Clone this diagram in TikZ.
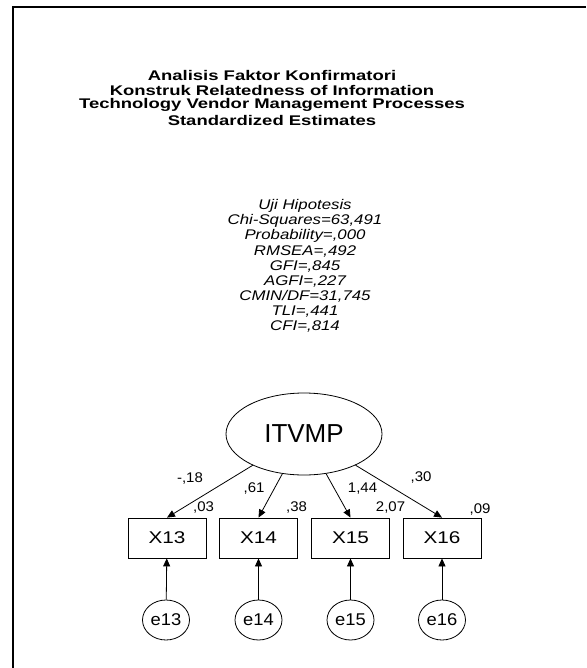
\documentclass[tikz,border=0pt]{standalone}
\usepackage{fontspec}
\usepackage{graphicx}
\setmainfont{Liberation Sans}
\usetikzlibrary{shapes.geometric,arrows.meta}
\newcommand{\wide}[2]{\scalebox{#1}[1]{#2}}
\begin{document}
\begin{tikzpicture}[x=1pt,y=-1pt,
  lat/.style={draw,ellipse,line width=0.8pt,inner sep=0pt},
  obs/.style={draw,rectangle,line width=0.8pt,minimum width=78pt,minimum height=40pt,inner sep=0pt,font=\fontsize{17}{17}\selectfont},
  err/.style={draw,ellipse,line width=0.8pt,minimum width=47pt,minimum height=40pt,inner sep=0pt,font=\fontsize{17}{17}\selectfont},
  arr/.style={line width=0.8pt,-{Triangle[length=8pt,width=7pt]}},
  lab/.style={inner sep=0pt,font=\fontsize{14}{14}\selectfont},
  fit/.style={inner sep=0pt,font=\fontsize{14}{14}\itshape\selectfont},
  ttl/.style={inner sep=0pt,font=\fontsize{14}{14}\bfseries\selectfont}]
\useasboundingbox (0,0) rectangle (586,668);
\draw[line width=2pt] (12.5,668) -- (12.5,7.5) -- (586,7.5);
% title
\node[ttl] (t1) at (272,75) {\wide{1.32}{Analisis Faktor Konfirmatori}};
\node[ttl] (t2) at (272,90) {\wide{1.32}{Konstruk Relatedness of Information}};
\node[ttl] (t3) at (272,105) {\wide{1.32}{Technology Vendor Management Processes}};
\node[ttl] (t4) at (272,120) {\wide{1.32}{Standardized Estimates}};
% fit
\node[fit] (f1) at (305,206) {\wide{1.2}{Uji Hipotesis}};
\node[fit] (f2) at (305,221.1) {\wide{1.2}{Chi-Squares=63,491}};
\node[fit] (f3) at (305,236.2) {\wide{1.2}{Probability=,000}};
\node[fit] (f4) at (305,251.3) {\wide{1.2}{RMSEA=,492}};
\node[fit] (f5) at (305,266.4) {\wide{1.2}{GFI=,845}};
\node[fit] (f6) at (305,281.5) {\wide{1.2}{AGFI=,227}};
\node[fit] (f7) at (305,296.6) {\wide{1.2}{CMIN/DF=31,745}};
\node[fit] (f8) at (305,311.7) {\wide{1.2}{TLI=,441}};
\node[fit] (f9) at (305,326.8) {\wide{1.2}{CFI=,814}};
% latent
\node[lat,minimum width=156pt,minimum height=82pt,font=\fontsize{26}{26}\selectfont] (L) at (304,434) {ITVMP};
% observed
\node[obs] (x13) at (167,538) {\wide{1.22}{X13}};
\node[obs] (x14) at (258.5,538) {\wide{1.22}{X14}};
\node[obs] (x15) at (350.5,538) {\wide{1.22}{X15}};
\node[obs] (x16) at (442,538) {\wide{1.22}{X16}};
% errors
\node[err] (e13) at (166,620) {\wide{1.08}{e13}};
\node[err] (e14) at (258.5,620) {\wide{1.08}{e14}};
\node[err] (e15) at (350.5,620) {\wide{1.08}{e15}};
\node[err] (e16) at (442,620) {\wide{1.08}{e16}};
% arrows
\draw[arr] (L) -- (x13.north);
\draw[arr] (L) -- (x14.north);
\draw[arr] (L) -- (x15.north);
\draw[arr] (L) -- (x16.north);
\draw[arr] (e13) -- (x13);
\draw[arr] (e14) -- (x14);
\draw[arr] (e15) -- (x15);
\draw[arr] (e16) -- (x16);
% loading labels
\node[lab] (l13) at (190,479) {\wide{1.07}{-,18}};
\node[lab] (l14) at (254,489) {\wide{1.07}{,61}};
\node[lab] (l15) at (362.5,489) {\wide{1.07}{1,44}};
\node[lab] (l16) at (421,478) {\wide{1.07}{,30}};
% r2 labels
\node[lab] (r13) at (203.5,508) {\wide{1.07}{,03}};
\node[lab] (r14) at (296.5,508) {\wide{1.07}{,38}};
\node[lab] (r15) at (390.5,508) {\wide{1.07}{2,07}};
\node[lab] (r16) at (480,510) {\wide{1.07}{,09}};
\end{tikzpicture}
\end{document}
